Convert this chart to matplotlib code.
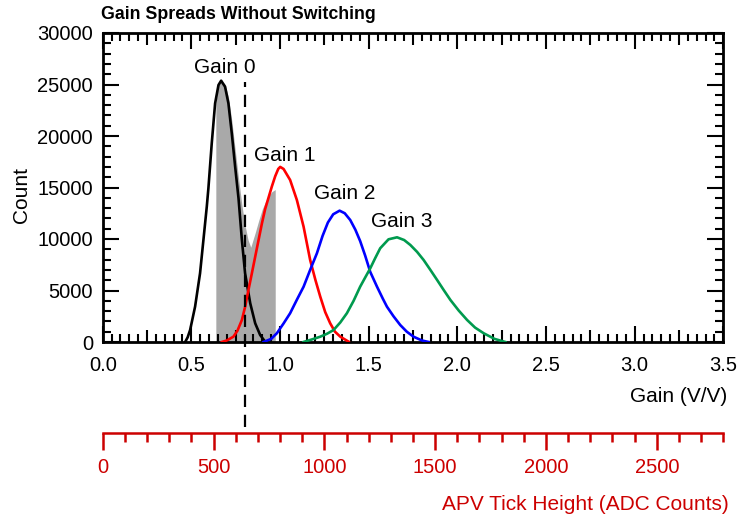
import matplotlib
matplotlib.use('Agg')
import matplotlib.pyplot as plt
from matplotlib.ticker import MultipleLocator, FixedLocator

plt.rcParams['font.family'] = ['Liberation Sans', 'DejaVu Sans']

# Histogram outlines (gain in V/V, counts)
gain0_x = [0.465, 0.479, 0.493, 0.521, 0.549, 0.568, 0.587, 0.596, 0.615, 0.634, 0.653, 0.668,
           0.690, 0.709, 0.728, 0.747, 0.766, 0.785, 0.803, 0.832, 0.860, 0.888, 0.916, 0.930]
gain0_y = [0, 450, 1165, 3430, 6670, 9900, 13140, 14900, 19290, 23175, 24950, 25370,
           24790, 23175, 20260, 17020, 13950, 9900, 6670, 3760, 1815, 680, 30, 0]

gain1_x = [0.672, 0.700, 0.737, 0.760, 0.785, 0.803, 0.822, 0.841, 0.860, 0.879, 0.898, 0.916,
           0.935, 0.954, 0.973, 0.990, 1.001, 1.020, 1.057, 1.095, 1.133, 1.170, 1.200, 1.227,
           1.255, 1.283, 1.310, 1.340, 1.387]
gain1_y = [0, 150, 515, 1100, 2140, 3400, 5050, 6650, 8280, 9900, 11520, 12900,
           14000, 15100, 16100, 16800, 17000, 16800, 15730, 13790, 11190, 7960, 6000, 4400,
           2900, 1815, 1000, 515, 30]

gain2_x = [0.907, 0.950, 0.982, 1.020, 1.057, 1.095, 1.133, 1.170, 1.208, 1.240, 1.270, 1.300,
           1.336, 1.365, 1.396, 1.425, 1.452, 1.480, 1.509, 1.547, 1.580, 1.603, 1.640, 1.678,
           1.715, 1.753, 1.800, 1.838]
gain2_y = [0, 300, 845, 1800, 2790, 4100, 5370, 7000, 8610, 10300, 11600, 12400,
           12750, 12500, 11845, 10900, 9800, 8400, 6800, 5370, 4200, 3430, 2500, 1650,
           1000, 515, 150, 0]

gain3_x = [1.132, 1.180, 1.227, 1.265, 1.302, 1.340, 1.377, 1.415, 1.452, 1.480, 1.509, 1.537,
           1.565, 1.612, 1.660, 1.700, 1.735, 1.773, 1.810, 1.848, 1.886, 1.923, 1.961, 2.008,
           2.055, 2.100, 2.149, 2.210, 2.271]
gain3_y = [0, 250, 515, 800, 1165, 1900, 2790, 4000, 5370, 6250, 7155, 8150,
           9100, 9970, 10165, 9900, 9420, 8750, 7960, 7000, 6020, 5050, 4080, 3050,
           2140, 1400, 845, 300, 0]

# combined spread (no switching), grey fill
mixed_x = [0.638, 0.638, 0.653, 0.668, 0.690, 0.709, 0.728, 0.747, 0.766, 0.785, 0.803, 0.820,
           0.835, 0.860, 0.880, 0.900, 0.920, 0.940, 0.955, 0.973, 0.973]
mixed_y = [0, 23200, 25000, 25400, 25000, 23800, 21500, 18700, 15900, 13300, 11300, 9900,
           9200, 10600, 11800, 12900, 13700, 14300, 14600, 14800, 0]

labels = ['Gain 0', 'Gain 1', 'Gain 2', 'Gain 3']
label_x = [0.686, 1.025, 1.364, 1.686]
label_y = [26670, 18155, 14440, 11680]
colors = ['black', '#ff0000', '#0000ff', '#009a4e']

adc_major = [0, 500, 1000, 1500, 2000, 2500]
adc_minor = list(range(0, 2801, 100))

cut_gain = 0.8
adc_per_gain = 800.0
red = '#cc0000'

fig = plt.figure(figsize=(7.39, 5.17), dpi=100)
ax = fig.add_axes([102.7 / 739, 1 - 342 / 517, (723.3 - 102.7) / 739, 309 / 517])

ax.fill_between(mixed_x, mixed_y, 0, color='#a9a9a9', linewidth=0, zorder=1)
curves = [(gain0_x, gain0_y), (gain1_x, gain1_y), (gain2_x, gain2_y), (gain3_x, gain3_y)]
for (xs, ys), c in zip(curves, colors):
    ax.plot(xs, ys, color=c, linewidth=1.9, zorder=3)
for t, lx, ly in zip(labels, label_x, label_y):
    ax.text(lx, ly, t, ha='center', va='center', fontsize=15)

# cut line, runs down to the ADC axis
ax.axvline(cut_gain, ymin=-0.275, ymax=0.841, color='black', linewidth=1.6,
           dashes=(5.5, 3.5), clip_on=False, zorder=4)

ax.set_xlim(0, 3.5)
ax.set_ylim(0, 30000)
ax.xaxis.set_major_locator(MultipleLocator(0.5))
ax.xaxis.set_minor_locator(MultipleLocator(0.05))
ax.yaxis.set_major_locator(MultipleLocator(5000))
ax.yaxis.set_minor_locator(MultipleLocator(1000))
ax.xaxis.set_major_formatter(lambda v, p: '%.1f' % v)
for s in ax.spines.values():
    s.set_linewidth(2.0)
ax.tick_params(which='both', direction='in', top=True, right=True, width=1.5, labelsize=14.5)
ax.tick_params(which='major', length=11.5)
ax.tick_params(which='minor', length=5.5)
ax.tick_params(axis='x', which='major', pad=10)
ax.tick_params(axis='y', which='major', pad=7)

# medium ticks every 0.25
locs = ax.xaxis.get_minorticklocs()
for loc, tk in zip(locs, ax.xaxis.get_minor_ticks(len(locs))):
    if abs(loc / 0.25 - round(loc / 0.25)) < 1e-6:
        tk.tick1line.set_markersize(8.5)
        tk.tick2line.set_markersize(8.5)

# ADC axis below
sec = ax.secondary_xaxis(-91 / 309, functions=(lambda g: g * adc_per_gain,
                                               lambda a: a / adc_per_gain))
sec.xaxis.set_major_locator(FixedLocator(adc_major))
sec.xaxis.set_minor_locator(FixedLocator(adc_minor))
sec.spines['bottom'].set_color(red)
sec.spines['bottom'].set_linewidth(1.8)
sec.tick_params(which='both', direction='out', color=red, labelcolor=red, width=1.8,
                labelsize=14.5)
sec.tick_params(which='major', length=12, pad=6)
sec.tick_params(which='minor', length=6.5)

fig.text(101 / 739, 1 - 14.5 / 517, 'Gain Spreads Without Switching', fontsize=12.8,
         fontweight='bold', ha='left', va='center')
fig.text(22 / 739, 1 - 195 / 517, 'Count', fontsize=15, rotation=90, ha='center', va='center')
fig.text(727 / 739, 1 - 397 / 517, 'Gain (V/V)', fontsize=15, ha='right', va='center')
fig.text(729 / 739, 1 - 504 / 517, 'APV Tick Height (ADC Counts)', fontsize=15,
         ha='right', va='center', color=red)

fig.savefig('out.png', dpi=100)
